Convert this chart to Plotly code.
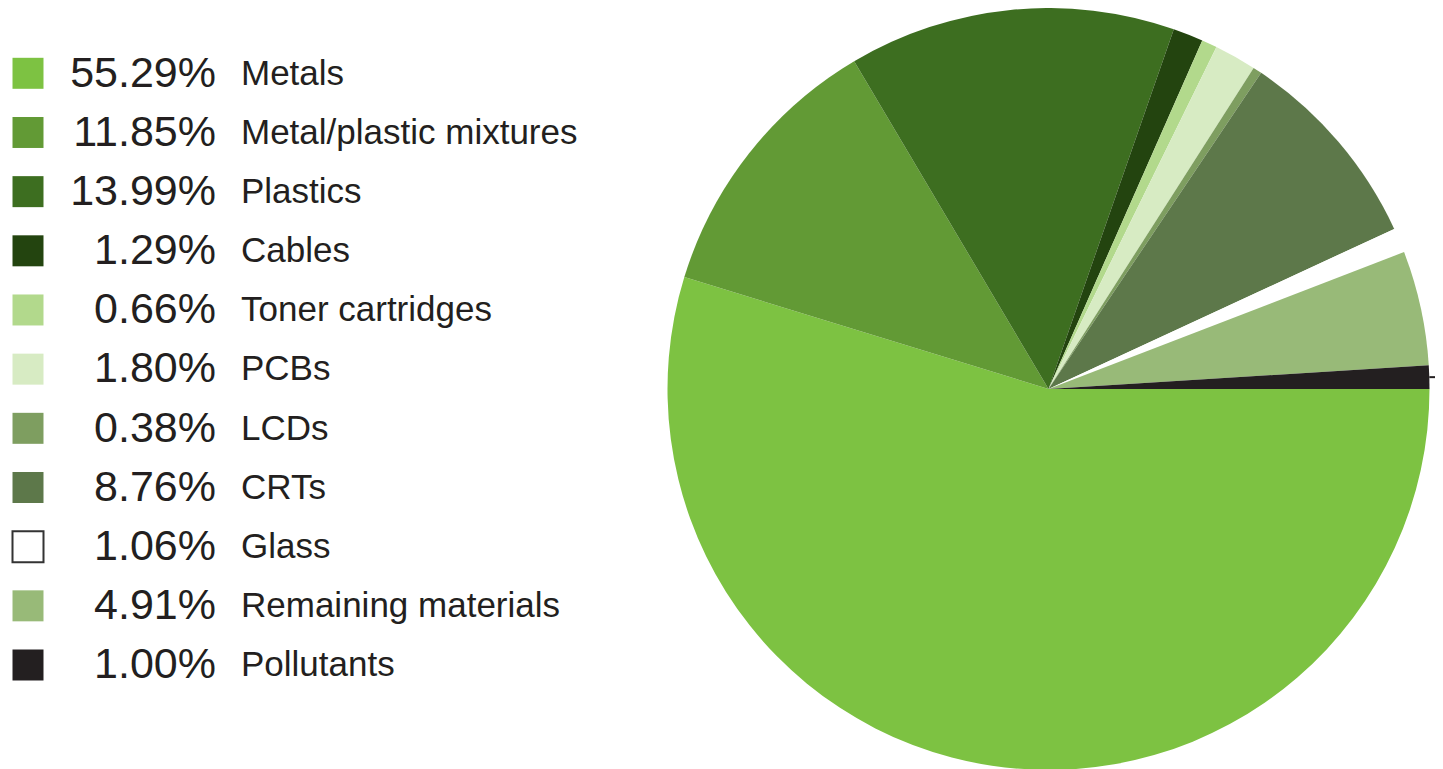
import math
import plotly.graph_objects as go

categories = ["Metals", "Metal/plastic mixtures", "Plastics", "Cables", "Toner cartridges",
              "PCBs", "LCDs", "CRTs", "Glass", "Remaining materials", "Pollutants"]
values = [55.29, 11.85, 13.99, 1.29, 0.66, 1.80, 0.38, 8.76, 1.06, 4.91, 1.00]
pct_labels = ["55.29%", "11.85%", "13.99%", "1.29%", "0.66%", "1.80%", "0.38%",
              "8.76%", "1.06%", "4.91%", "1.00%"]
colors = ["#7dc242", "#629a35", "#3d6e20", "#23440f", "#b2d98c", "#d7ebc3",
          "#7e9e60", "#5d784a", "#ffffff", "#98ba78", "#231f20"]

W, H = 1443, 769
TXT = "#231f20"

fig = go.Figure()

# Pie (figure pixel coordinates)
cx, cy, r = 1040.5, 381.0, 381.0
fig.add_trace(go.Pie(
    values=values, labels=categories, sort=False, direction="clockwise", rotation=90,
    marker=dict(colors=colors, line=dict(width=0)), textinfo="none", hoverinfo="label+percent",
    showlegend=False,
    domain=dict(x=[(cx - r) / W, (cx + r) / W], y=[(H - (cy + r)) / H, 1.0]),
))

# legend built as scatter on pixel-scaled axes
n = len(categories)
row_y = [65.3 + 59.17 * i for i in range(n)]
text_y = [y + 2.5 for y in row_y]
fig.add_trace(go.Scatter(
    x=[20] * n, y=row_y, mode="markers",
    marker=dict(symbol="square", size=31, color=colors,
                line=dict(color=["rgba(0,0,0,0)"] * 8 + ["#333333"] + ["rgba(0,0,0,0)"] * 2, width=2)),
    showlegend=False, hoverinfo="skip", xaxis="x", yaxis="y"))
fig.add_trace(go.Scatter(
    x=[208] * n, y=text_y, mode="text", text=pct_labels, textposition="middle left",
    textfont=dict(family="Liberation Sans, Arial, sans-serif", size=43, color=TXT),
    showlegend=False, hoverinfo="skip", xaxis="x", yaxis="y"))
fig.add_trace(go.Scatter(
    x=[233] * n, y=text_y, mode="text", text=categories, textposition="middle right",
    textfont=dict(family="Liberation Sans, Arial, sans-serif", size=35, color=TXT),
    showlegend=False, hoverinfo="skip", xaxis="x", yaxis="y"))

# leader line at the middle of the last slice (screen coords, clockwise from 3 o'clock)
total = sum(values)
mid_frac = (total - values[-1] / 2) / total
ang = math.radians(mid_frac * 360)
px = cx + r * math.cos(ang)
py = cy + r * math.sin(ang)
fig.add_shape(type="line", xref="paper", yref="paper",
              x0=px / W, x1=1.0, y0=1 - py / H, y1=1 - py / H,
              line=dict(color="#231f20", width=2))

LW = 650
fig.update_layout(
    width=W, height=H, margin=dict(l=0, r=0, t=0, b=0),
    paper_bgcolor="white", plot_bgcolor="rgba(0,0,0,0)",
    xaxis=dict(domain=[0, LW / W], range=[0, LW], visible=False, fixedrange=True),
    yaxis=dict(domain=[0, 1], range=[H, 0], visible=False, fixedrange=True),
)

fig.write_html("out.html")
